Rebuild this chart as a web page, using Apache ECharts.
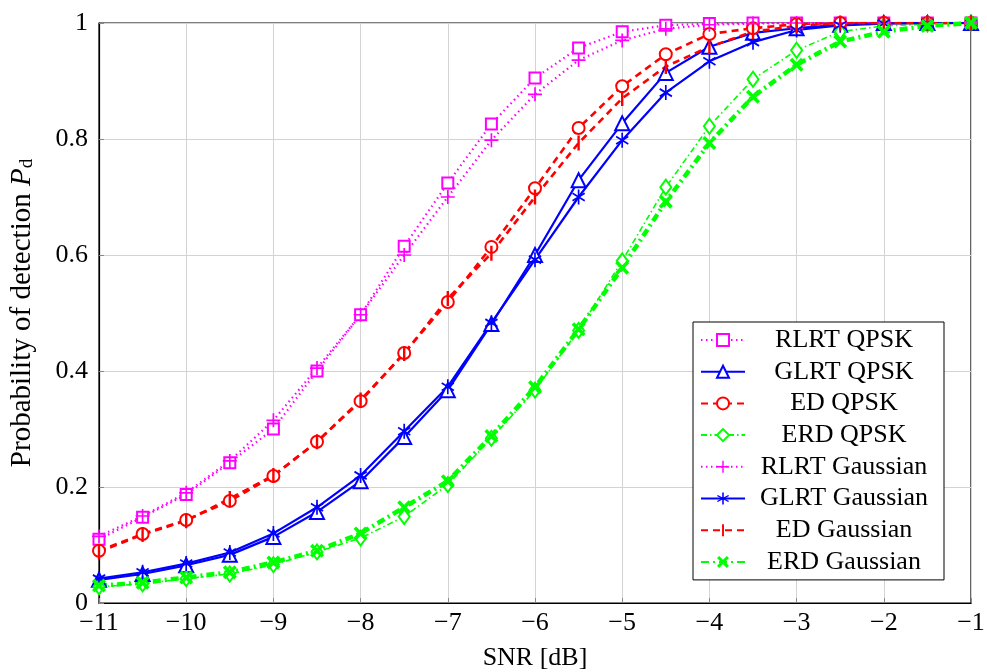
<!DOCTYPE html>
<html>
<head>
<meta charset="utf-8">
<script src="https://cdn.jsdelivr.net/npm/echarts@6/dist/echarts.min.js"></script>
<style>
  html, body { margin: 0; padding: 0; background: #fff; }
  #main { width: 987px; height: 672px; }
</style>
</head>
<body>
<div id="main"></div>
<script>
// SNR axis, -11 .. -1 dB in 0.5 dB steps
var snr = [-11, -10.5, -10, -9.5, -9, -8.5, -8, -7.5, -7, -6.5, -6, -5.5, -5, -4.5, -4, -3.5, -3, -2.5, -2, -1.5, -1]

var rlrtQpsk = [0.110, 0.148, 0.187, 0.242, 0.300, 0.400, 0.497, 0.615, 0.724, 0.826, 0.905, 0.957, 0.985, 0.996, 0.999, 1, 1, 1, 1, 1, 1]
var glrtQpsk = [0.040, 0.050, 0.065, 0.083, 0.114, 0.157, 0.210, 0.286, 0.367, 0.481, 0.600, 0.729, 0.827, 0.914, 0.959, 0.983, 0.991, 0.997, 1, 1, 1]
var edQpsk = [0.090, 0.119, 0.143, 0.176, 0.219, 0.278, 0.348, 0.431, 0.519, 0.614, 0.715, 0.819, 0.891, 0.946, 0.981, 0.991, 0.998, 1, 1, 1, 1]
var erdQpsk = [0.028, 0.033, 0.042, 0.050, 0.066, 0.088, 0.112, 0.149, 0.204, 0.284, 0.367, 0.470, 0.590, 0.717, 0.822, 0.903, 0.953, 0.985, 0.995, 0.998, 1]
var rlrtGauss = [0.115, 0.150, 0.190, 0.245, 0.315, 0.405, 0.497, 0.600, 0.700, 0.798, 0.877, 0.936, 0.970, 0.990, 0.997, 0.999, 1, 1, 1, 1, 1]
var glrtGauss = [0.042, 0.053, 0.068, 0.087, 0.120, 0.165, 0.220, 0.296, 0.373, 0.483, 0.592, 0.700, 0.798, 0.880, 0.934, 0.967, 0.988, 0.996, 0.999, 1, 1]
var edGauss = [0.088, 0.118, 0.142, 0.180, 0.220, 0.278, 0.350, 0.430, 0.525, 0.603, 0.700, 0.793, 0.870, 0.925, 0.959, 0.985, 0.995, 1, 1, 1, 1]
var erdGauss = [0.030, 0.035, 0.044, 0.053, 0.070, 0.090, 0.120, 0.165, 0.210, 0.288, 0.372, 0.472, 0.578, 0.692, 0.793, 0.873, 0.928, 0.968, 0.985, 0.995, 1]

var FONT = 'Liberation Serif'
var FS = 26

// marker shapes (filled paths, nonzero winding)
var plusPath = 'path://M-0.6,-5L0.6,-5L0.6,5L-0.6,5Z M-5,-0.6L5,-0.6L5,0.6L-5,0.6Z'
var starPath = 'path://M-0.6,-5L0.6,-5L0.6,5L-0.6,5Z M4.63,1.98L4.03,3.02L-4.63,-1.98L-4.03,-3.02Z M-4.03,3.02L-4.63,1.98L4.03,-3.02L4.63,-1.98Z'
// vertical bar; the two empty subpaths only widen the box so it stays thin
var barPath = 'path://M-5,-5L-5,-5Z M5,5L5,5Z M-0.8,-5L0.8,-5L0.8,5L-0.8,5Z'
var crossPath = 'path://M4.32,2.76L2.76,4.32L-4.32,-2.76L-2.76,-4.32Z M-2.76,4.32L-4.32,2.76L2.76,-4.32L4.32,-2.76Z'

function pairs(vals) {
  return snr.map(function (x, i) { return [x, vals[i]] })
}

function minus(v) {
  return String(v).replace('-', '\u2212')
}

function line(name, vals, color, dash, width, symbol, size) {
  return {
    name: name,
    type: 'line',
    data: pairs(vals),
    color: color,
    symbol: symbol,
    symbolSize: size,
    showAllSymbol: true,
    animation: false,
    lineStyle: { color: color, width: width, type: dash },
    itemStyle: { color: color, borderWidth: 1.6 }
  }
}

var chart = echarts.init(document.getElementById('main'))
chart.setOption({
  backgroundColor: '#fff',
  textStyle: { fontFamily: FONT },
  grid: {
    left: 99, right: 16, top: 23, bottom: 69,
    outerBoundsMode: 'none',
    containLabel: false,
    show: true, borderColor: '#000', borderWidth: 1.2
  },
  xAxis: {
    type: 'value',
    min: -11, max: -1, interval: 1,
    name: 'SNR [dB]',
    nameLocation: 'middle',
    nameGap: 42,
    nameTextStyle: { fontFamily: FONT, fontSize: FS, color: '#000' },
    axisLine: { show: true, lineStyle: { color: '#000', width: 1.2 } },
    axisTick: { show: true, inside: true, length: 5, lineStyle: { color: '#888' } },
    axisLabel: { fontFamily: FONT, fontSize: FS, color: '#000', margin: 7, formatter: minus },
    splitLine: { show: true, lineStyle: { color: '#d3d3d3', width: 1 } }
  },
  yAxis: {
    type: 'value',
    min: 0, max: 1, interval: 0.2,
    name: '{a|Probability of detection }{i|P}{s|d}',
    nameLocation: 'middle',
    nameGap: 62,
    nameTextStyle: {
      fontFamily: FONT, fontSize: FS, color: '#000',
      rich: {
        a: { fontFamily: FONT, fontSize: 29, color: '#000' },
        i: { fontFamily: FONT, fontSize: 29, fontStyle: 'italic', color: '#000' },
        s: { fontFamily: FONT, fontSize: 19, color: '#000', verticalAlign: 'bottom', padding: [10, 0, 0, 0] }
      }
    },
    axisLine: { show: true, lineStyle: { color: '#000', width: 1.2 } },
    axisTick: { show: true, inside: true, length: 5, lineStyle: { color: '#888' } },
    axisLabel: {
      fontFamily: FONT, fontSize: FS, color: '#000', margin: 11,
      formatter: function (v) { return String(Math.round(v * 10) / 10) }
    },
    splitLine: { show: true, lineStyle: { color: '#d3d3d3', width: 1 } }
  },
  legend: {
    orient: 'vertical',
    left: 693, top: 322,
    padding: [5, 6, 5, 7],
    backgroundColor: '#fff',
    borderColor: '#000',
    borderWidth: 1,
    itemWidth: 44,
    itemHeight: 15,
    itemGap: 5.7,
    textStyle: {
      fontFamily: FONT, fontSize: FS, color: '#000', lineHeight: 26,
      rich: { c: { fontFamily: FONT, fontSize: FS, width: 188, align: 'center', lineHeight: 26 } }
    },
    formatter: function (n) { return '{c|' + n + '}' },
    selectedMode: false
  },
  series: [
    line('RLRT QPSK', rlrtQpsk, '#ff00ff', [1.5, 3.5], 2.2, 'emptyRect', 11),
    line('GLRT QPSK', glrtQpsk, '#0000ff', 'solid', 2.2, 'emptyTriangle', 14),
    line('ED QPSK', edQpsk, '#ff0000', [7, 5], 2.6, 'emptyCircle', 12),
    line('ERD QPSK', erdQpsk, '#00ff00', [6, 3, 1.5, 3], 1.6, 'emptyDiamond', [11, 15]),
    line('RLRT Gaussian', rlrtGauss, '#ff00ff', [1.5, 3.5], 2.2, plusPath, 14),
    line('GLRT Gaussian', glrtGauss, '#0000ff', 'solid', 2.2, starPath, [13, 15]),
    line('ED Gaussian', edGauss, '#ff0000', [7, 5], 2.6, barPath, 15),
    line('ERD Gaussian', erdGauss, '#00ff00', [8, 4, 2, 4], 4.5, crossPath, 14)
  ]
})
</script>
</body>
</html>
